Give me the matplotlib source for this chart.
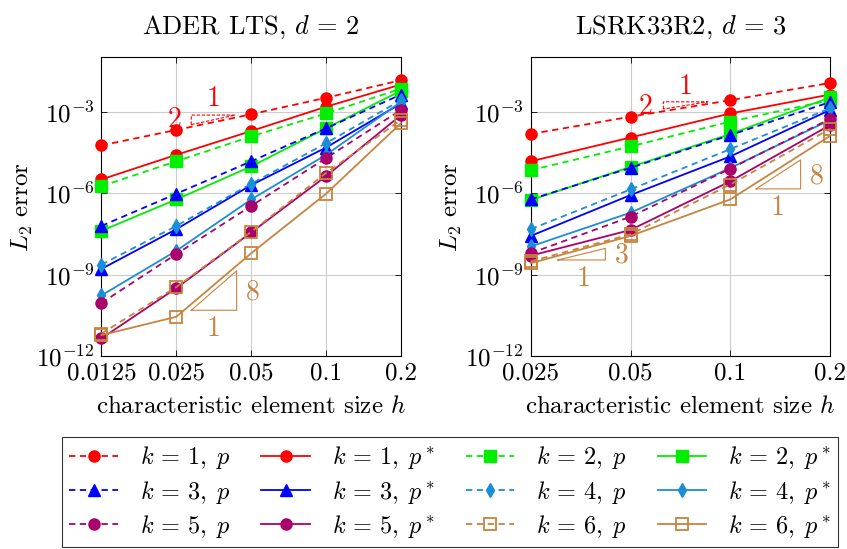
import numpy as np
import matplotlib
matplotlib.use('Agg')
import matplotlib.pyplot as plt
from matplotlib.lines import Line2D

plt.rcParams['font.family'] = ['cmr10']
plt.rcParams['mathtext.fontset'] = 'cm'
plt.rcParams['axes.formatter.use_mathtext'] = True
plt.rcParams['axes.unicode_minus'] = False

# mesh sizes
h_ader = [0.0125, 0.025, 0.05, 0.1, 0.2]
h_lsrk = [0.025, 0.05, 0.1, 0.2]

# log10 of L2 error, ADER LTS d=2 (p, p*) for k = 1..6
ader_p = {
    1: [-4.22, -3.65, -3.07, -2.46, -1.81],
    2: [-5.73, -4.81, -3.89, -3.04, -2.12],
    3: [-7.20, -6.01, -4.81, -3.59, -2.34],
    4: [-8.63, -7.20, -5.64, -4.14, -2.55],
    5: [-10.05, -8.24, -6.46, -4.69, -2.91],
    6: [-11.18, -9.46, -7.42, -5.24, -3.28],
}
ader_pstar = {
    1: [-5.48, -4.57, -3.69, -2.79, -1.97],
    2: [-7.38, -6.22, -5.00, -3.59, -2.20],
    3: [-8.79, -7.32, -5.69, -4.30, -2.67],
    4: [-9.77, -8.12, -6.22, -4.57, -2.61],
    5: [-11.36, -9.50, -7.44, -5.36, -3.10],
    6: [-11.24, -10.56, -8.21, -6.01, -3.40],
}

# log10 of L2 error, LSRK33R2 d=3
lsrk_p = {
    1: [-3.80, -3.16, -2.55, -1.91],
    2: [-5.14, -4.26, -3.34, -2.55],
    3: [-6.22, -5.05, -3.84, -2.62],
    4: [-7.32, -5.85, -4.36, -2.85],
    5: [-8.21, -6.86, -5.08, -3.24],
    6: [-8.51, -7.51, -5.67, -3.61],
}
lsrk_pstar = {
    1: [-4.81, -3.93, -3.04, -2.34],
    2: [-6.24, -5.02, -3.80, -2.45],
    3: [-7.57, -6.06, -4.63, -2.91],
    4: [-7.96, -6.71, -5.06, -3.28],
    5: [-8.30, -7.35, -5.55, -3.47],
    6: [-8.58, -7.57, -6.22, -3.87],
}

colors = {1: '#ff0000', 2: '#00ee00', 3: '#0000ff',
          4: '#1a8ed8', 5: '#aa006c', 6: '#c8843e'}
markers = {1: 'o', 2: 's', 3: '^', 4: 'd', 5: 'o', 6: 's'}

# slope triangles: (x0, x1, log y0, slope, corner, color, dashed)
tri_ader = [(0.0287, 0.0431, -3.10, 2, 'top', colors[1], True),
            (0.0287, 0.0437, -10.32, 8, 'bottom', colors[6], False)]
tri_lsrk = [(0.0628, 0.0855, -2.61, 2, 'top', colors[1], True),
            (0.1197, 0.163, -5.83, 8, 'bottom', colors[6], False),
            (0.0302, 0.042, -8.46, 3, 'bottom', colors[6], False)]
# triangle labels: (x, log y, text, color)
lab_ader = [(0.0246, -3.28, '2', colors[1]), (0.0352, -2.49, '1', colors[1]),
            (0.0509, -9.65, '8', colors[6]), (0.0352, -10.99, '1', colors[6])]
lab_lsrk = [(0.0554, -2.79, '2', colors[1]), (0.0734, -2.06, '1', colors[1]),
            (0.182, -5.36, '8', colors[6]), (0.139, -6.52, '1', colors[6]),
            (0.0471, -8.30, '3', colors[6]), (0.0361, -9.16, '1', colors[6])]


def style(k, star):
    face = 'none' if k == 6 else colors[k]
    return dict(color=colors[k], marker=markers[k], mfc=face, mec=colors[k],
                ms=8 if markers[k] != 'd' else 7, mew=1.3 if k == 6 else 1.0,
                lw=1.3, ls='-' if star else (0, (3.5, 2.5)), clip_on=False)


def draw(ax, h, p, pstar, tris, labs, title):
    for k in range(1, 7):
        ax.plot(h, 10.0 ** np.array(p[k]), **style(k, False), zorder=3)
        ax.plot(h, 10.0 ** np.array(pstar[k]), **style(k, True), zorder=3)
    for x0, x1, y0, s, corner, c, dashed in tris:
        dy = s * np.log10(x1 / x0)
        if corner == 'top':
            xs = [x0, x0, x1, x0]
            ys = [y0 - dy, y0, y0, y0 - dy]
        else:
            xs = [x0, x1, x1, x0]
            ys = [y0, y0, y0 + dy, y0]
        ax.plot(xs, 10.0 ** np.array(ys), color=c, lw=0.8,
                ls=(0, (3, 1.5)) if dashed else '-', zorder=4)
    for x, y, t, c in labs:
        ax.text(x, 10 ** y, t, color=c, fontsize=20, ha='center', va='center')
    ax.set_xscale('log')
    ax.set_yscale('log')
    ax.set_xlim(h[0], h[-1])
    ax.set_ylim(1e-12, 10 ** -0.97)
    ax.set_xticks(h)
    ax.set_xticklabels([f'{v:g}' for v in h])
    ax.set_yticks([1e-12, 1e-9, 1e-6, 1e-3])
    ax.set_yticklabels([r'$10^{-12}$', r'$10^{-9}$', r'$10^{-6}$', r'$10^{-3}$'])
    ax.minorticks_off()
    ax.tick_params(direction='in', top=True, right=True, labelsize=18, length=4,
                   width=0.6, pad=5)
    ax.grid(True, color='#cccccc', lw=0.8)
    ax.set_axisbelow(True)
    for sp in ax.spines.values():
        sp.set_linewidth(0.8)
    ax.set_title(title, fontsize=19, pad=17)
    ax.set_xlabel(r'characteristic element size $h$', fontsize=18, labelpad=8)
    ax.set_ylabel(r'$L_2$ error', fontsize=18, labelpad=1)


fig = plt.figure(figsize=(8.47, 5.49), dpi=100)
ax1 = fig.add_axes([0.1198, 0.3521, 0.3536, 0.5432])
ax2 = fig.add_axes([0.6266, 0.3521, 0.3534, 0.5432])
draw(ax1, h_ader, ader_p, ader_pstar, tri_ader, lab_ader, r'ADER LTS, $d\,=\,2$')
draw(ax2, h_lsrk, lsrk_p, lsrk_pstar, tri_lsrk, lab_lsrk, r'LSRK33R2, $d\,=\,3$')

entries = []
for k in range(1, 7):
    entries.append((Line2D([], [], **style(k, False)), rf'$k\,=\,{k},\;p$'))
    entries.append((Line2D([], [], **style(k, True)), rf'$k\,=\,{k},\;p^*$'))
order = [entries[4 * i + j] for j in range(4) for i in range(3)]
leg = fig.legend([e[0] for e in order], [e[1] for e in order], ncol=4,
                 loc='center', bbox_to_anchor=(62 / 847, 1 - 548 / 549, 776 / 847, 112 / 549),
                 mode='expand', fontsize=17.5, frameon=True, fancybox=False,
                 edgecolor='black', handlelength=2.0, handletextpad=0.9,
                 borderpad=0.3, labelspacing=0.3, columnspacing=0.8,
                 borderaxespad=0)
leg.get_frame().set_linewidth(0.8)

fig.savefig('out.png', dpi=100)
